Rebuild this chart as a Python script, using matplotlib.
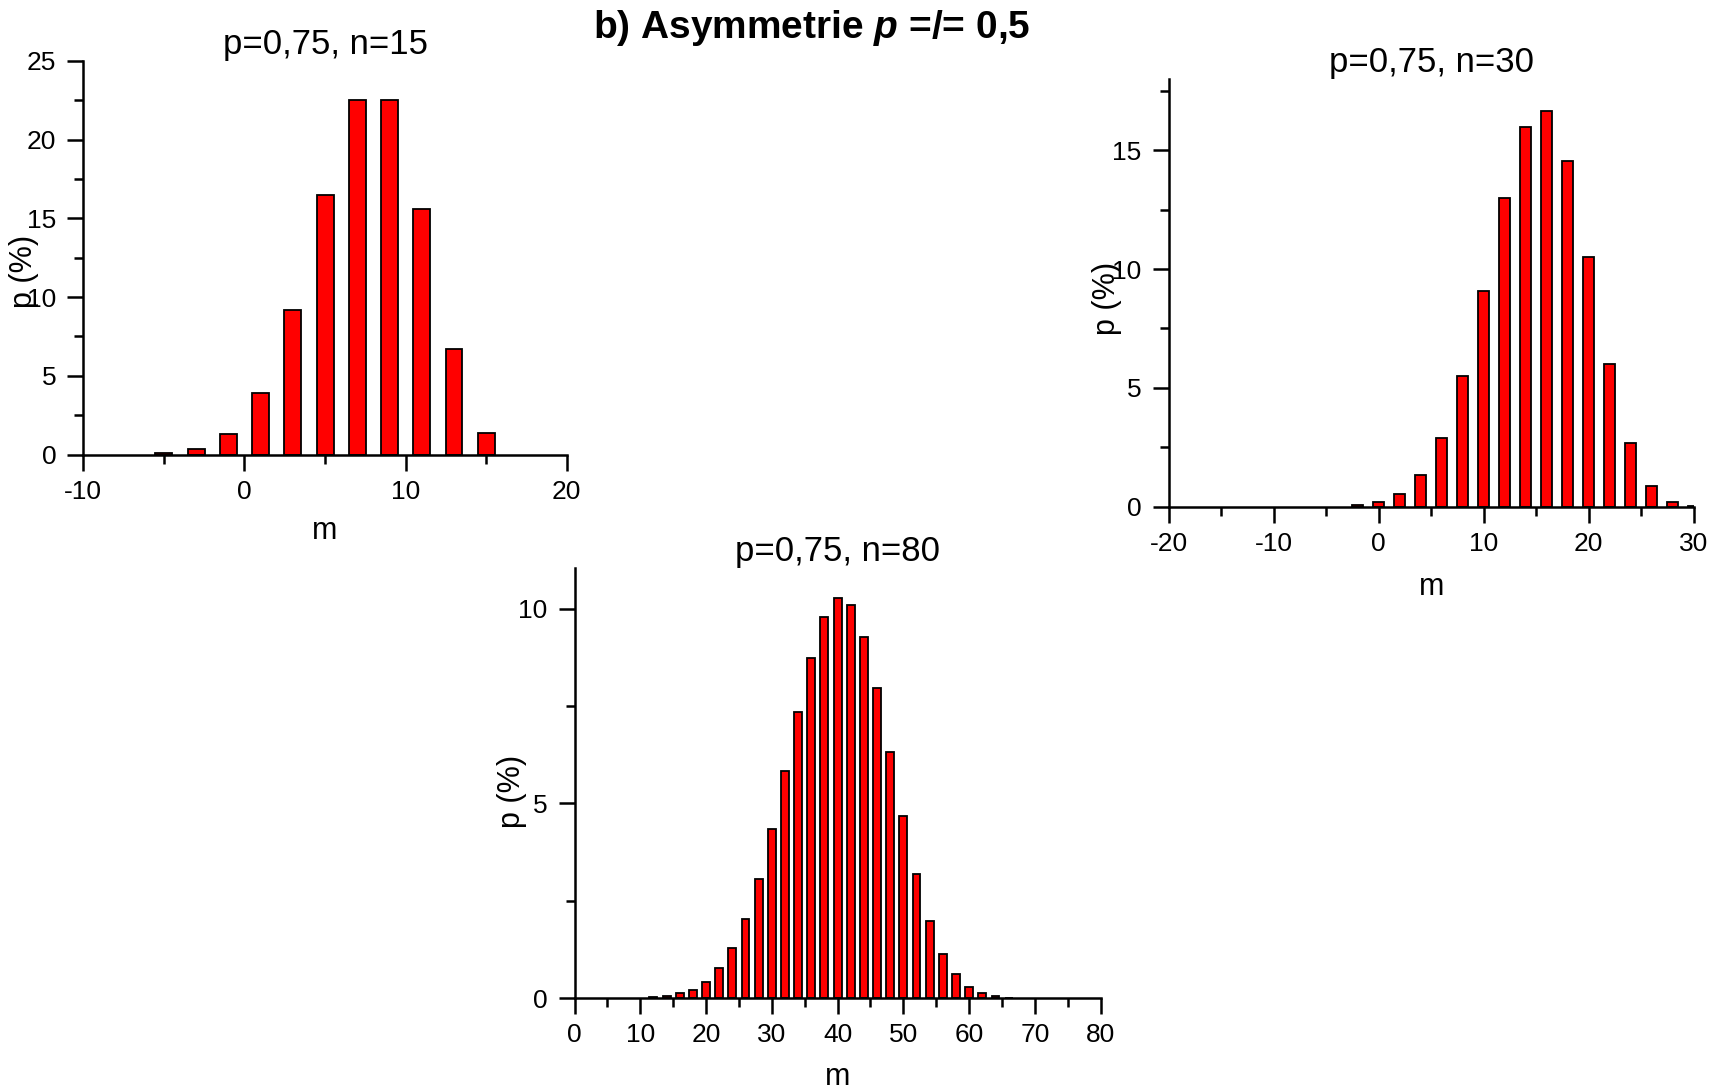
import matplotlib
matplotlib.use("Agg")
import matplotlib.pyplot as plt
from matplotlib.ticker import MultipleLocator

plt.rcParams['font.family'] = ['Liberation Sans', 'DejaVu Sans']
plt.rcParams['axes.unicode_minus'] = False
plt.rcParams['mathtext.fontset'] = 'custom'
plt.rcParams['mathtext.it'] = 'Liberation Sans:bold:italic'
plt.rcParams['mathtext.rm'] = 'Liberation Sans:bold'

# ---- data ----
m15 = [-5, -3, -1, 1, 3, 5, 7, 9, 11, 13, 15]
p15 = [0.07, 0.34, 1.31, 3.93, 9.17, 16.5, 22.5, 22.5, 15.6, 6.68, 1.34]

m30 = [-2, 0, 2, 4, 6, 8, 10, 12, 14, 16, 18, 20, 22, 24, 26, 28, 30]
p30 = [0.06, 0.19, 0.55, 1.33, 2.91, 5.5, 9.09, 13.0, 15.96, 16.65, 14.57,
       10.5, 6.0, 2.66, 0.87, 0.18, 0.02]

m80 = [12, 14, 16, 18, 20, 22, 24, 26, 28, 30, 32, 34, 36, 38, 40, 42, 44,
       46, 48, 50, 52, 54, 56, 58, 60, 62, 64, 66]
p80 = [0.02, 0.06, 0.12, 0.21, 0.42, 0.77, 1.28, 2.04, 3.05, 4.34, 5.83,
       7.35, 8.74, 9.78, 10.28, 10.11, 9.28, 7.97, 6.33, 4.67, 3.19, 1.99,
       1.14, 0.61, 0.28, 0.12, 0.05, 0.01]

titles = ["p=0,75, n=15", "p=0,75, n=30", "p=0,75, n=80"]
suptitle = r"b) Asymmetrie $p$ =/= 0,5"

W, H = 1719, 1089
fig = plt.figure(figsize=(W / 100, H / 100), dpi=100)


def make_axes(x0, x1, ytop, ybot):
    return fig.add_axes([x0 / W, 1 - ybot / H, (x1 - x0) / W, (ybot - ytop) / H])


panels = [
    dict(rect=(83.3, 566.8, 61.0, 454.5), m=m15, p=p15, width=1.05,
         xlim=(-10, 20), ylim=(0, 25), ylab=(-0.122, 0.466), xlab=(0.5, -0.195),
         title=titles[0]),
    dict(rect=(1168.7, 1693.8, 79.0, 506.7), m=m30, p=p30, width=1.05,
         xlim=(-20, 30), ylim=(0, 18), ylab=(-0.117, 0.488), xlab=(0.5, -0.187),
         title=titles[1]),
    dict(rect=(574.5, 1100.7, 568.0, 998.0), m=m80, p=p80, width=1.2,
         xlim=(0, 80), ylim=(0, 11.05), ylab=(-0.119, 0.48), xlab=(0.5, -0.183),
         title=titles[2]),
]

for pn in panels:
    ax = make_axes(*pn['rect'])
    ax.bar(pn['m'], pn['p'], width=pn['width'], color='#ff0000',
           edgecolor='black', linewidth=1.3, zorder=2)
    ax.set_xlim(*pn['xlim'])
    ax.set_ylim(*pn['ylim'])
    for s in ('top', 'right'):
        ax.spines[s].set_visible(False)
    for s in ('left', 'bottom'):
        ax.spines[s].set_linewidth(1.8)
    ax.xaxis.set_major_locator(MultipleLocator(10))
    ax.xaxis.set_minor_locator(MultipleLocator(5))
    ax.yaxis.set_major_locator(MultipleLocator(5))
    ax.yaxis.set_minor_locator(MultipleLocator(2.5))
    ax.tick_params(which='major', direction='out', length=11.5, width=1.8,
                   labelsize=19)
    ax.tick_params(axis='x', which='major', pad=6.5)
    ax.tick_params(axis='y', which='major', pad=8)
    ax.tick_params(which='minor', direction='out', length=6.5, width=1.8)
    ax.set_xlabel('m', fontsize=22)
    ax.set_ylabel('p (%)', fontsize=22)
    ax.xaxis.set_label_coords(*pn['xlab'])
    ax.yaxis.set_label_coords(*pn['ylab'])
    ax.xaxis.label.set_va('center')
    ax.yaxis.label.set_va('center')
    ax.set_title(pn['title'], fontsize=25, pad=2)

fig.text(811.7 / W, 1 - 28 / H, suptitle, ha='center', va='center',
         fontsize=28, fontweight='bold')

fig.savefig('out.png', dpi=100)
